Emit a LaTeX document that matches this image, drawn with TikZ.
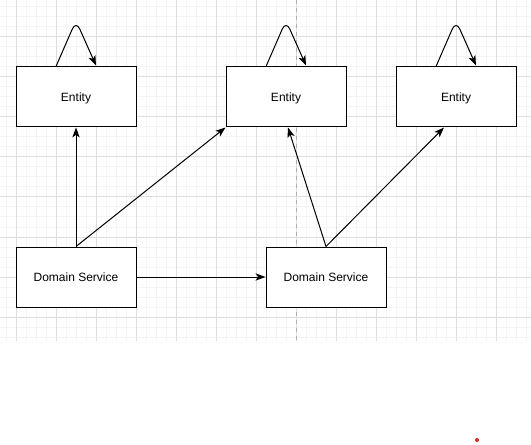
\documentclass[tikz,border=0pt]{standalone}
\usepackage{fontspec}
\setmainfont{Liberation Sans}
\usetikzlibrary{arrows.meta,calc}
\definecolor{minorgrid}{HTML}{F4F4F4}
\definecolor{majorgrid}{HTML}{DEDEDE}
\definecolor{guide}{HTML}{B0B0B0}
\definecolor{dotred}{HTML}{D62828}
\begin{document}
\begin{tikzpicture}[x=0.75pt,y=-0.75pt,
  box/.style={draw,line width=0.75pt,fill=white,minimum width=90pt,minimum height=45pt,inner sep=0pt,text depth=0pt,font=\fontsize{9}{11}\selectfont},
  conn/.style={draw,line width=0.75pt,-{Stealth[length=7.5pt,width=5.5pt,inset=2pt]}},
  gminor/.style={draw=minorgrid,line width=0.75pt},
  gmajor/.style={draw=majorgrid,line width=0.75pt}]
\useasboundingbox (0,0) rectangle (531,445);
\fill[white] (0,0) rectangle (531,445);
% grid
\foreach \x in {6,16,...,526} \draw[gminor] (\x,0) -- (\x,341);
\foreach \y in {7,17,...,337} \draw[gminor] (0,\y) -- (531,\y);
\foreach \x in {16,56,...,496} \draw[gmajor] (\x,0) -- (\x,341);
\foreach \y in {37,77,...,317} \draw[gmajor] (0,\y) -- (531,\y);
\draw[guide,dashed,line width=0.75pt] (296,0) -- (296,341);
% nodes
\node[box] (e1) at (76,97) {Entity};
\node[box] (e2) at (286,97) {Entity};
\node[box] (e3) at (456,97) {Entity};
\node[box] (d1) at (76,277) {Domain Service};
\node[box] (d2) at (326,277) {Domain Service};
% self loops
\foreach \n in {e1,e2,e3}
  \draw[conn,rounded corners=7pt] ($(\n.north)+(-20,0)$) -- ($(\n.north)+(0,-46)$) -- ($(\n.north)+(20,-1)$);
% connectors
\draw[conn] (d1.north) -- (e1.south);
\draw[conn] (d1.north) -- (e2.south west);
\draw[conn] (d1.east) -- (d2.west);
\draw[conn] (d2.north) -- ($(e2.south)+(2,0)$);
\draw[conn] (d2.north) -- ($(e3.south)+(-12,0)$);
% red dot
\fill[dotred] (477,440) circle (2);
\end{tikzpicture}
\end{document}
